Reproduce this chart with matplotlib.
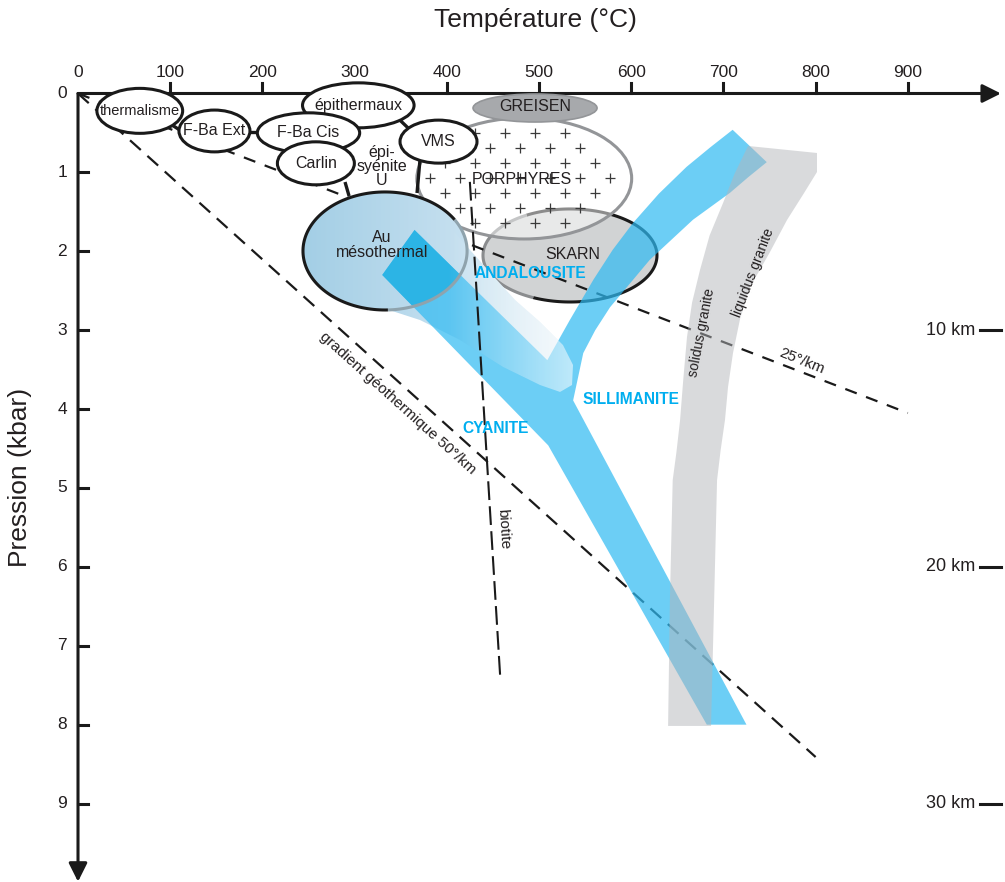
import numpy as np
import matplotlib
matplotlib.use("Agg")
import matplotlib.pyplot as plt
from matplotlib.patches import Ellipse, Polygon

plt.rcParams['font.family'] = ['Liberation Sans', 'DejaVu Sans']

# --- graduations ---
temp_ticks = [0, 100, 200, 300, 400, 500, 600, 700, 800, 900]
pres_ticks = [0, 1, 2, 3, 4, 5, 6, 7, 8, 9]
depth_labels = ["10 km", "20 km", "30 km"]
depth_pres = [3, 6, 9]

# --- petits gisements (ellipses blanches) : T centre, P centre, largeur (°C), hauteur (kbar) ---
gis_noms = ["thermalisme", "épithermaux", "F-Ba Ext", "F-Ba Cis", "Carlin", "VMS"]
gis_T = [67, 304, 148, 250, 258, 391]
gis_P = [0.22, 0.15, 0.475, 0.50, 0.885, 0.61]
gis_w = [93, 121, 77, 111, 83.5, 83.5]
gis_h = [0.57, 0.57, 0.53, 0.51, 0.545, 0.545]
gis_fs = [10.5, 11.5, 11.5, 11.5, 11.5, 11.5]

# traits de liaison entre gisements (T0, P0, T1, P1)
liaisons = [(102, 0.40, 112, 0.475),
            (349, 0.336, 358, 0.437),
            (186.6, 0.488, 195.2, 0.488),
            (289.6, 1.122, 294, 1.30),
            (370.9, 0.843, 367.7, 1.261)]

# grands domaines
au_meso = (333, 1.996, 178, 1.496)
greisen = (495.7, 0.184, 134.5, 0.355)
porphyres = (484, 1.077, 233, 1.534)
skarn = (533.6, 2.053, 188.7, 1.179)

# bande bleue cyanite / andalousite / sillimanite (T, P)
band_T = [365, 509, 533, 559, 580, 602, 630, 660, 686, 710, 747, 727, 707, 667, 620, 577, 561, 548, 537, 725, 682, 510, 330]
band_P = [1.73, 3.38, 2.88, 2.36, 1.98, 1.64, 1.27, 0.93, 0.68, 0.46, 0.87, 1.06, 1.26, 1.60, 2.11, 2.71, 3.00, 3.29, 3.89, 8.0, 8.0, 4.46, 2.30]

# fuseau solidus / liquidus du granite (T, P)
gran_T = [640, 642, 645, 649, 653, 656.5, 660.5, 666, 674.6, 685, 699.6, 712, 726.7,
          801.5, 801.5, 787, 769, 750, 728.9, 718, 710.4, 705, 701.7, 697, 693.1, 690, 686.6]
gran_P = [8.016, 6.4, 4.90, 4.55, 4.14, 3.62, 3.086, 2.65, 2.237, 1.80, 1.388, 1.02, 0.665,
          0.754, 0.995, 1.27, 1.603, 2.02, 2.452, 2.86, 3.289, 3.72, 4.138, 4.52, 4.90, 6.4, 8.016]

# prolongement translucide du domaine Au mésothermal
queue_T = [330.8, 370.9, 414.3, 461, 501.1, 522.8, 535.8, 536.9, 526, 501.1, 474, 452.3, 425.2, 392.6, 349.2]
queue_P = [2.719, 2.871, 3.124, 3.466, 3.695, 3.783, 3.695, 3.441, 3.188, 2.896, 2.617, 2.338, 1.984, 1.540, 1.730]

# droites
grad50 = ([0, 800], [0, 8.41])
grad25 = ([0, 900], [0, 4.05])
biotite = ([425, 458], [1.12, 7.41])

# porphyres : maille des croix
croix_dT = 32.54
croix_dP = 0.3802

TXT = '#231f20'
BLEU_TXT = '#00aeef'
NOIR = '#1a1a1a'

fig = plt.figure(figsize=(10.05, 8.82), dpi=100)
ax = fig.add_axes([0, 0, 1, 1])
ax.axis('off')


def ellipse(e, **kw):
    return Ellipse((e[0], e[1]), e[2], e[3], transform=ax.transData, **kw)


def arc(e, t1, t2, **kw):
    t = np.radians(np.linspace(t1, t2, 120))
    ax.plot(e[0] + e[2] / 2 * np.cos(t), e[1] + e[3] / 2 * np.sin(t),
            solid_capstyle='butt', **kw)


def degrade(clip, T0, T1, P0, P1, c0, c1, a0, a1, z):
    f = np.linspace(0, 1, 256)[:, None]
    rgba = np.zeros((1, 256, 4))
    rgba[0, :, :3] = (1 - f) * np.array(c0) + f * np.array(c1)
    rgba[0, :, 3] = (1 - f[:, 0]) * a0 + f[:, 0] * a1
    im = ax.imshow(rgba, extent=[T0, T1, P1, P0], aspect='auto',
                   interpolation='bilinear', zorder=z)
    im.set_clip_path(clip)


# --- axes fléchés ---
ax.annotate('', xy=(1001, 0), xytext=(0, 0),
            arrowprops=dict(arrowstyle='-|>', color=NOIR, lw=2.2,
                            mutation_scale=28, shrinkA=0, shrinkB=0), zorder=1)
ax.annotate('', xy=(0, 9.99), xytext=(0, 0),
            arrowprops=dict(arrowstyle='-|>', color=NOIR, lw=2.2,
                            mutation_scale=28, shrinkA=0, shrinkB=0), zorder=1)
for t in temp_ticks:
    if t > 0:
        ax.plot([t, t], [0, -0.127], color=NOIR, lw=2.2, zorder=1)
    ax.text(t, -0.27, str(t), ha='center', va='center', fontsize=12.5, color=TXT)
for p in pres_ticks:
    if p > 0:
        ax.plot([0, 10.8], [p, p], color=NOIR, lw=2.2, zorder=1)
    ax.text(-17, p, str(p), ha='center', va='center', fontsize=12.5, color=TXT)
for lab, p in zip(depth_labels, depth_pres):
    ax.plot([978, 1001], [p, p], color=NOIR, lw=2.2)
    ax.text(973, p, lab, ha='right', va='center', fontsize=13, color=TXT)

ax.text(495.7, -0.93, "Température (°C)", ha='center', va='center', fontsize=19, color=TXT)
ax.text(-63, 4.87, "Pression (kbar)", ha='center', va='center', rotation=90,
        fontsize=19, color=TXT)

# --- SKARN et PORPHYRES ---
ax.add_patch(ellipse(skarn, facecolor='#d1d3d4', edgecolor='none', zorder=2))
arc(skarn, -120, 115, color=NOIR, lw=2.2, zorder=2.1)
arc(skarn, 115, 240, color='#8a8c8e', lw=2.2, zorder=2.1)

ax.add_patch(ellipse(porphyres, facecolor='white', alpha=0.5, edgecolor='none', zorder=2.2))
ax.add_patch(ellipse(porphyres, facecolor='none', edgecolor='#939598', lw=2.2, zorder=2.25))
cx, cy = [], []
for j in range(-2, 4):
    for i in range(-5, 6):
        for dT, dP in ((0, 0), (croix_dT / 2, croix_dP / 2)):
            T = 463.1 + i * croix_dT + dT
            P = 0.5006 + j * croix_dP + dP
            if ((T - porphyres[0]) / (porphyres[2] / 2)) ** 2 + \
               ((P - porphyres[1]) / (porphyres[3] / 2)) ** 2 < 0.82:
                cx.append(T)
                cy.append(P)
ax.scatter(cx, cy, marker='+', s=62, lw=0.9, color='#3a3a3a', zorder=2.3)

# --- gradients géothermiques ---
ax.plot(*grad50, color=NOIR, lw=1.6, dashes=(6.5, 4), zorder=2.4)
ax.plot(*grad25, color=NOIR, lw=1.6, dashes=(5.5, 4.5), zorder=2.4)

# --- Au mésothermal et son prolongement ---
queue = Polygon(np.column_stack([queue_T, queue_P]), closed=True, transform=ax.transData)
degrade(queue, 330, 540, 1.5, 3.8, (0.70, 0.84, 0.92), (0.92, 0.96, 0.98), 1, 1, 2.45)

au_clip = ellipse(au_meso)
degrade(au_clip, 244, 422, 1.2, 2.8, (0.64, 0.81, 0.90), (0.78, 0.88, 0.94), 1, 1, 2.5)

# --- bande des silicates d'alumine ---
band_xy = np.column_stack([band_T, band_P])
ax.add_patch(Polygon(band_xy, closed=True, facecolor='#2ebaf2', alpha=0.7,
                     edgecolor='none', zorder=3))
band_au = Polygon(band_xy, closed=True, facecolor='#2cb4e5', edgecolor='none', zorder=3.1)
ax.add_patch(band_au)
band_au.set_clip_path(au_clip)
queue2 = Polygon(np.column_stack([queue_T, queue_P]), closed=True, transform=ax.transData)
degrade(queue2, 400, 540, 1.5, 3.8, (1, 1, 1), (1, 1, 1), 0.0, 0.6, 3.2)

arc(au_meso, -32, 88, color='#8fa3ad', lw=2.2, zorder=3.3)
arc(au_meso, 88, 328, color=NOIR, lw=2.2, zorder=3.3)

# --- granite ---
ax.add_patch(Polygon(np.column_stack([gran_T, gran_P]), closed=True,
                     facecolor='#b4b6ba', alpha=0.5, edgecolor='none', zorder=3.5))

# --- isograde biotite ---
ax.plot(*biotite, color=NOIR, lw=1.5, dashes=(9, 3), zorder=3.6)

# --- petits gisements ---
for T0, P0, T1, P1 in liaisons:
    ax.plot([T0, T1], [P0, P1], color=NOIR, lw=2.4, zorder=3.9, solid_capstyle='butt')
for nom, T, P, w, h, fs in zip(gis_noms, gis_T, gis_P, gis_w, gis_h, gis_fs):
    ax.add_patch(Ellipse((T, P), w, h, facecolor='white', edgecolor=NOIR, lw=2.2, zorder=4))
    ax.text(T, P, nom, ha='center', va='center', fontsize=fs, color=TXT, zorder=5)

ax.add_patch(ellipse(greisen, facecolor='#a7a9ac', edgecolor='#939598', lw=1.2, zorder=4))
ax.text(greisen[0], 0.171, "GREISEN", ha='center', va='center', fontsize=11.5, color=TXT, zorder=5)

# --- étiquettes ---
ax.text(329.7, 0.93, "épi-\nsyénite\nU", ha='center', va='center', fontsize=11.5,
        linespacing=0.92, color=TXT, zorder=5)
ax.text(329.7, 1.92, "Au\nmésothermal", ha='center', va='center', fontsize=11.5,
        linespacing=1.0, color=TXT, zorder=5)
ax.text(481.6, 1.096, "PORPHYRES", ha='center', va='center', fontsize=11.5, color=TXT, zorder=5)
ax.text(536.9, 2.047, "SKARN", ha='center', va='center', fontsize=11.5, color=TXT, zorder=5)
ax.text(490.8, 2.281, "ANDALOUSITE", ha='center', va='center', fontsize=11.2,
        fontweight='bold', color=BLEU_TXT, zorder=5)
ax.text(599.8, 3.878, "SILLIMANITE", ha='center', va='center', fontsize=11.2,
        fontweight='bold', color=BLEU_TXT, zorder=5)
ax.text(452.8, 4.246, "CYANITE", ha='center', va='center', fontsize=11.2,
        fontweight='bold', color=BLEU_TXT, zorder=5)
ax.text(347.1, 3.923, "gradient géothermique 50°/km", ha='center', va='center',
        rotation=-42, rotation_mode='anchor', fontsize=11, color=TXT, zorder=5)
ax.text(461.5, 5.519, "biotite", ha='center', va='center', rotation=-86.5,
        rotation_mode='anchor', fontsize=11, color=TXT, zorder=5)
ax.text(785.2, 3.39, "25°/km", ha='center', va='center', rotation=-22,
        rotation_mode='anchor', fontsize=11, color=TXT, zorder=5)
ax.text(676.8, 3.035, "solidus granite", ha='center', va='center', rotation=79,
        rotation_mode='anchor', fontsize=10, color=TXT, zorder=5)
ax.text(732.1, 2.275, "liquidus granite", ha='center', va='center', rotation=69,
        rotation_mode='anchor', fontsize=10, color=TXT, zorder=5)

ax.set_xlim(-84.6, 1005.4)
ax.set_ylim(9.994, -1.185)

fig.savefig("out.png", dpi=100)
